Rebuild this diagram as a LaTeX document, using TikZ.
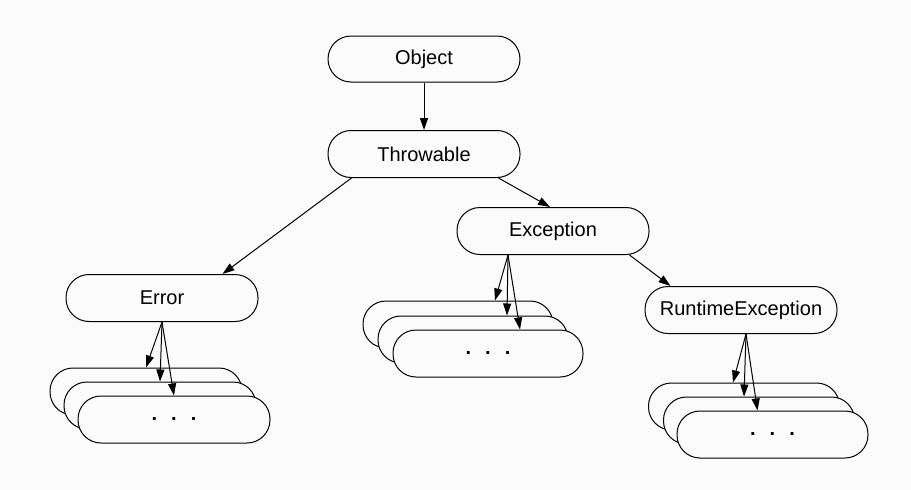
\documentclass[tikz,border=0pt]{standalone}
\usepackage{fontspec}
\setmainfont{Liberation Sans}
\usetikzlibrary{arrows.meta}
\definecolor{bg}{HTML}{FBFBFB}
\tikzset{
  box/.style={draw=black, fill=bg, line width=1pt, rounded corners=23pt,
    minimum width=192pt, minimum height=47pt, inner sep=0pt,
    font=\fontsize{20}{24}\selectfont},
  conn/.style={line width=1pt, -{Triangle[length=12pt,width=8pt]}}
}
\newcommand{\mydots}{\raisebox{-2pt}{\textbf{.}\hspace{14pt}\textbf{.}\hspace{14pt}\textbf{.}}}
\begin{document}
\begin{tikzpicture}[x=1pt,y=-1pt]
\useasboundingbox[fill=bg] (0,0) rectangle (911,490);
% main nodes
\node[box, minimum height=46pt] (obj) at (424,59) {Object};
\node[box] (thr) at (424,154) {Throwable};
\node[box] (err) at (162,298) {Error};
\node[box] (exc) at (553,231) {Exception};
\node[box] (rte) at (741,310) {RuntimeException};
% stacks
\node[box] (eb1) at (146,391.5) {};
\node[box] (eb2) at (160,405.5) {};
\node[box] (eb3) at (174,419.5) {\mydots};
\node[box, minimum width=190pt] (xb1) at (458,324.5) {};
\node[box, minimum width=190pt] (xb2) at (473,339.5) {};
\node[box, minimum width=190pt] (xb3) at (488,353.5) {\mydots};
\node[box, minimum width=191pt] (rb1) at (744,406.5) {};
\node[box, minimum width=191pt] (rb2) at (759,420.5) {};
\node[box, minimum width=191pt] (rb3) at (772.5,434.5) {\mydots};
% connectors between main nodes
\draw[conn] (obj.south) -- (thr.north);
\coordinate (t1) at ([xshift=24pt]thr.south west);
\coordinate (e1) at ([xshift=-36pt]err.north east);
\draw[conn] (t1) -- (e1);
\coordinate (t2) at ([xshift=-22pt]thr.south east);
\coordinate (x1) at ([xshift=-3pt]exc.north);
\draw[conn] (t2) -- (x1);
\coordinate (x2) at ([xshift=-20pt]exc.south east);
\coordinate (r1) at ([xshift=26pt]rte.north west);
\draw[conn] (x2) -- (r1);
% connectors to stacks
\draw[conn] (err.south) -- (eb1.north);
\draw[conn] (err.south) -- (eb2.north);
\draw[conn] (err.south) -- (eb3.north);
\coordinate (xo) at ([xshift=-45pt]exc.south);
\coordinate (xt1) at ([xshift=37pt]xb1.north);
\coordinate (xt2) at ([xshift=34pt]xb2.north);
\coordinate (xt3) at ([xshift=32pt]xb3.north);
\draw[conn] (xo) -- (xt1);
\draw[conn] (xo) -- (xt2);
\draw[conn] (xo) -- (xt3);
\coordinate (ro) at ([xshift=5pt]rte.south);
\coordinate (rt1) at ([xshift=-11pt]rb1.north);
\coordinate (rt2) at ([xshift=-15pt]rb2.north);
\coordinate (rt3) at ([xshift=-15pt]rb3.north);
\draw[conn] (ro) -- (rt1);
\draw[conn] (ro) -- (rt2);
\draw[conn] (ro) -- (rt3);
\end{tikzpicture}
\end{document}
